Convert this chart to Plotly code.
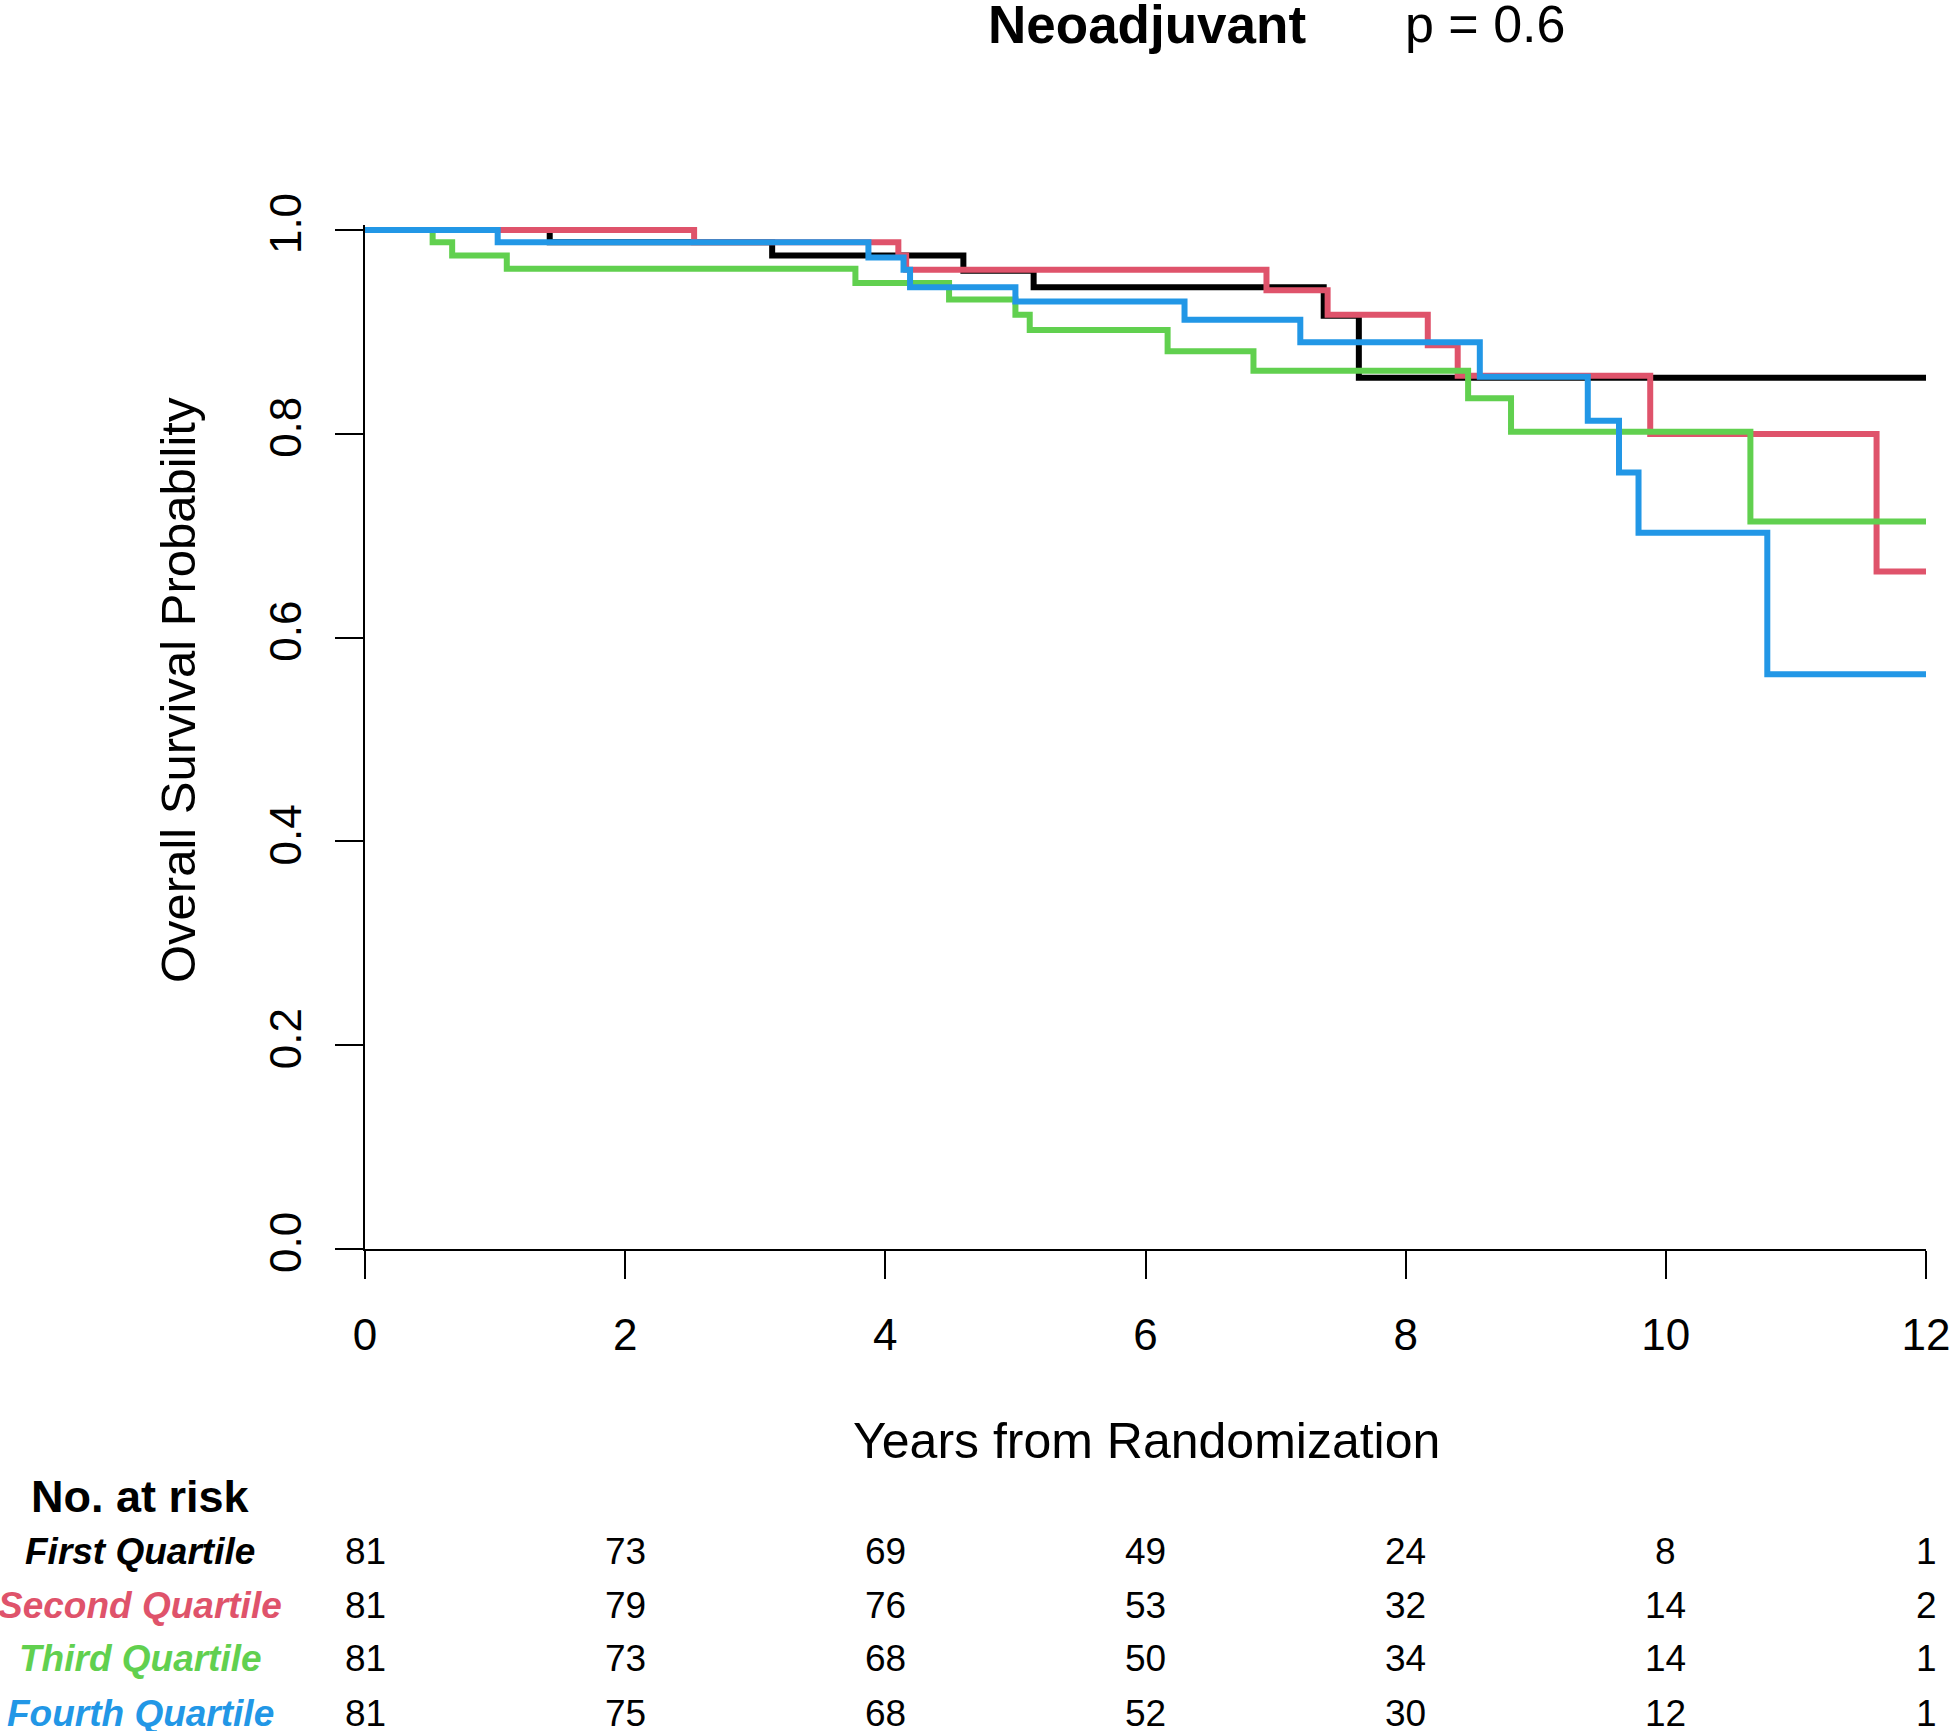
import plotly.graph_objects as go

# Kaplan-Meier step curves (years, survival probability)
groups = ["First Quartile", "Second Quartile", "Third Quartile", "Fourth Quartile"]
colors = ["#000000", "#DF536B", "#61D04F", "#2297E6"]

t_first = [0, 1.42, 3.13, 4.60, 5.14, 7.37, 7.64, 12]
s_first = [1.0, 0.988, 0.975, 0.960, 0.944, 0.916, 0.855, 0.855]

t_second = [0, 2.53, 4.10, 4.16, 6.93, 7.40, 8.17, 8.40, 9.88, 11.62, 12]
s_second = [1.0, 0.988, 0.975, 0.961, 0.941, 0.917, 0.887, 0.857, 0.800, 0.665, 0.665]

t_third = [0, 0.52, 0.67, 1.09, 3.77, 4.49, 5.00, 5.11, 6.17, 6.83, 8.48, 8.81, 10.65, 12]
s_third = [1.0, 0.988, 0.975, 0.962, 0.948, 0.932, 0.917, 0.902, 0.881, 0.862, 0.835, 0.802, 0.714, 0.714]

t_fourth = [0, 1.02, 3.87, 4.14, 4.19, 5.00, 6.30, 7.19, 8.57, 9.40, 9.64, 9.79, 10.78, 12]
s_fourth = [1.0, 0.988, 0.973, 0.961, 0.944, 0.930, 0.912, 0.890, 0.856, 0.813, 0.762, 0.703, 0.564, 0.564]

# numbers at risk
risk_times = [0, 2, 4, 6, 8, 10, 12]
risk_first = [81, 73, 69, 49, 24, 8, 1]
risk_second = [81, 79, 76, 53, 32, 14, 2]
risk_third = [81, 73, 68, 50, 34, 14, 1]
risk_fourth = [81, 75, 68, 52, 30, 12, 1]

curves = [(t_first, s_first), (t_second, s_second), (t_third, s_third), (t_fourth, s_fourth)]
risks = [risk_first, risk_second, risk_third, risk_fourth]

FONT = "Liberation Sans, Arial, sans-serif"

fig = go.Figure()
for (t, s), name, col in zip(curves, groups, colors):
    fig.add_trace(go.Scatter(x=t, y=s, mode="lines", name=name,
                             line=dict(color=col, width=6, shape="hv")))


def px_x(p):
    # page pixel -> paper x
    return (p - 365) / 1561


def px_y(p):
    # page pixel -> paper y
    return (1249 - p) / 1024


ann = []
common = dict(xref="paper", yref="paper", showarrow=False, xanchor="center", yanchor="middle")
# title + p value
ann.append(dict(text="<b>Neoadjuvant</b>", x=px_x(1147), y=px_y(24), font=dict(size=53), **common))
ann.append(dict(text="p = 0.6", x=px_x(1485), y=px_y(24), font=dict(size=52), **common))
# axis titles
ann.append(dict(text="Overall Survival Probability", x=px_x(178), y=px_y(690), textangle=-90,
                font=dict(size=49), **common))
ann.append(dict(text="Years from Randomization", x=px_x(1146), y=px_y(1441),
                font=dict(size=50), **common))
# risk table
ann.append(dict(text="<b>No. at risk</b>", x=px_x(140), y=px_y(1496), font=dict(size=45), **common))
row_y = [px_y(1551), px_y(1605), px_y(1658), px_y(1713)]
for name, col, counts, yy in zip(groups, colors, risks, row_y):
    ann.append(dict(text="<b><i>%s</i></b>" % name, x=px_x(140), y=yy,
                    font=dict(size=37, color=col), **common))
    for tt, n in zip(risk_times, counts):
        ann.append(dict(text=str(n), x=tt, y=yy, xref="x", yref="paper",
                        showarrow=False, xanchor="center", yanchor="middle",
                        font=dict(size=37)))

fig.update_layout(
    width=1950, height=1731,
    margin=dict(l=365, r=24, t=225, b=482),
    paper_bgcolor="white", plot_bgcolor="white",
    showlegend=False,
    font=dict(family=FONT, color="black"),
    annotations=ann,
)
fig.update_xaxes(range=[0, 12], tickvals=risk_times, showgrid=False, zeroline=False,
                 showline=True, linecolor="black", linewidth=2, automargin=False,
                 ticks="outside", ticklen=28, tickwidth=2, tickcolor="black",
                 tickfont=dict(size=44), ticklabelstandoff=18, ticklabeloverflow="allow")
fig.update_yaxes(range=[0, 1.005], tickvals=[0, 0.2, 0.4, 0.6, 0.8, 1.0], tickformat=".1f",
                 showgrid=False, zeroline=False, automargin=False,
                 showline=True, linecolor="black", linewidth=2,
                 ticks="outside", ticklen=28, tickwidth=2, tickcolor="black",
                 tickfont=dict(size=44), tickangle=-90, ticklabelstandoff=16)

# drop the default 8px body margin so the figure sits at the page origin
fig.write_html("out.html", config={"displayModeBar": False},
               post_script="document.body.style.margin='0px';")
